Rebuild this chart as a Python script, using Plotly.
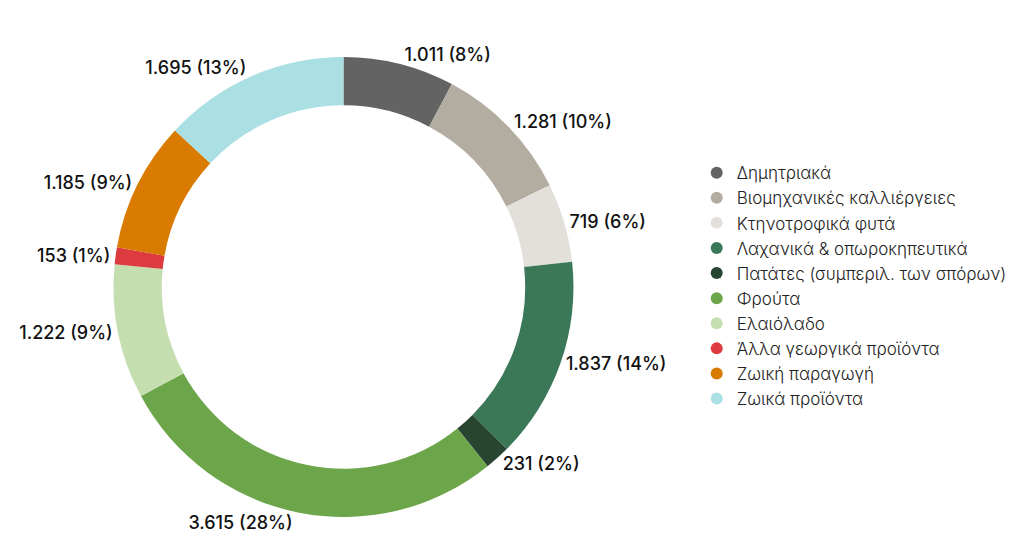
import plotly.graph_objects as go

categories = [
    "Δημητριακά",
    "Βιομηχανικές καλλιέργειες",
    "Κτηνοτροφικά φυτά",
    "Λαχανικά & οπωροκηπευτικά",
    "Πατάτες (συμπεριλ. των σπόρων)",
    "Φρούτα",
    "Ελαιόλαδο",
    "Άλλα γεωργικά προϊόντα",
    "Ζωική παραγωγή",
    "Ζωικά προϊόντα",
]
values = [1011, 1281, 719, 1837, 231, 3615, 1222, 153, 1185, 1695]
colors = ["#636363", "#b3aca1", "#e3dfdb", "#3b7858", "#284532",
          "#6da64a", "#c5deb0", "#dc3b3f", "#d97b00", "#aae0e4"]

FONT = "Inter"

fig = go.Figure()
fig.add_trace(go.Pie(
    labels=categories,
    values=values,
    marker=dict(colors=colors, line=dict(width=0)),
    hole=0.79,
    sort=False,
    direction="clockwise",
    rotation=0,
    textposition="outside",
    texttemplate="%{value:,} (%{percent:.0%})",
    textfont=dict(family=FONT, size=18, color="#111111", weight=500),
    showlegend=False,
    automargin=False,
    domain=dict(x=[0, 0.6508], y=[0, 1]),
))

for name, col in zip(categories, colors):
    fig.add_trace(go.Scatter(
        x=[None], y=[None], mode="markers", name=name,
        marker=dict(color=col, size=18, symbol="circle"),
        showlegend=True,
    ))

fig.update_layout(
    width=1031, height=552,
    margin=dict(l=0, r=0, t=49, b=43, autoexpand=False),
    paper_bgcolor="white", plot_bgcolor="white",
    separators=",.",
    xaxis=dict(visible=False), yaxis=dict(visible=False),
    legend=dict(
        x=0.668, y=0.503, xanchor="left", yanchor="middle",
        font=dict(family=FONT, size=17, color="#222222", weight=300),
        itemsizing="constant",
        tracegroupgap=0,
    ),
)

fig.write_html("out.html")
